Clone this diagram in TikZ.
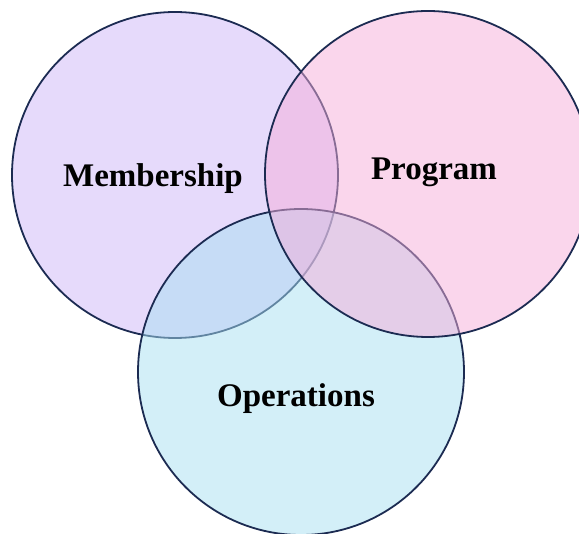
\documentclass[tikz,border=0pt]{standalone}
\usepackage{fontspec}
\setmainfont{Liberation Serif}
\begin{document}
\definecolor{memc}{RGB}{205,181,247}
\definecolor{progc}{RGB}{245,173,217}
\definecolor{opsc}{RGB}{167,223,241}
\definecolor{rim}{RGB}{28,43,82}
\begin{tikzpicture}[x=1pt,y=-1pt,
  venn/.style={circle, draw=rim, line width=1.8pt, fill opacity=0.5,
    minimum size=326pt, inner sep=0pt, outer sep=0pt},
  lbl/.style={anchor=base, font=\fontsize{33}{36}\selectfont\bfseries, text=black}]
  \useasboundingbox (0,0) rectangle (579,534);
  % three overlapping sets, later ones laid over earlier ones
  \node[venn, fill=memc]  (mem)  at (175,175) {};
  \node[venn, fill=opsc]  (ops)  at (301,372) {};
  \node[venn, fill=progc] (prog) at (428,174) {};
  % set names
  \node[lbl] (memlbl)  at (153,187) {Membership};
  \node[lbl] (proglbl) at (434,180) {Program};
  \node[lbl] (opslbl)  at (296,407) {Operations};
\end{tikzpicture}
\end{document}
